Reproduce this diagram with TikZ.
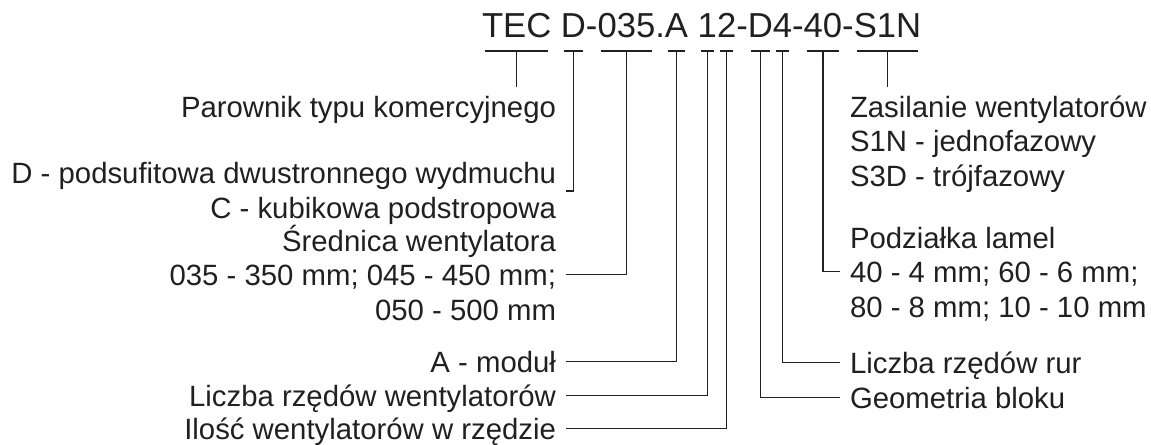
\documentclass[tikz,border=0pt]{standalone}
\usepackage{fontspec}
\setmainfont{Liberation Sans}
\usepackage{tikz}
\usetikzlibrary{positioning, calc}
\definecolor{ink}{HTML}{231F20}
\tikzstyle{seg} = [inner sep=0pt, outer sep=0pt, font=\fontsize{26}{30}\selectfont]
\tikzstyle{lbl} = [inner xsep=7.5pt, inner ysep=7.5pt, outer sep=0pt, text height=15.75pt, text depth=0pt, font=\fontsize{22}{26}\selectfont]
\newcommand{\segbar}[1]{%
  \draw ([shift={(3,13)}]#1.base west) -- ([shift={(-3,13)}]#1.base east);
  \coordinate (#1-bar) at ([shift={(0,13)}]#1.base);}

\begin{document}
\begin{tikzpicture}[x=0.75pt, y=-0.75pt, line width=1pt, color=ink]
    \useasboundingbox (0,0) rectangle (1151,445);
    % type code
    \node [seg, anchor=base west] (tec) at (482,38) {TEC};
    \node [seg, base right=7.2pt of tec] (typ) {D};
    \node [seg, base right=0pt of typ] (d1) {-};
    \node [seg, base right=0pt of d1] (fan) {035};
    \node [seg, base right=0pt of fan] (dot) {.};
    \node [seg, base right=0pt of dot] (mod) {A};
    \node [seg, base right=7.2pt of mod] (rows) {1};
    \node [seg, base right=0pt of rows] (num) {2};
    \node [seg, base right=0pt of num] (d2) {-};
    \node [seg, base right=0pt of d2] (geo) {D};
    \node [seg, base right=0pt of geo] (tubes) {4};
    \node [seg, base right=0pt of tubes] (d3) {-};
    \node [seg, base right=0pt of d3] (fins) {40};
    \node [seg, base right=0pt of fins] (d4) {-};
    \node [seg, base right=0pt of d4] (pow) {S1N};
    \segbar{tec} \segbar{typ} \segbar{fan} \segbar{mod} \segbar{rows}
    \segbar{num} \segbar{geo} \segbar{tubes} \segbar{fins} \segbar{pow}

    % left side
    \node [lbl, anchor=base east] (parownik) at (566,118) {Parownik typu komercyjnego};
    \node [lbl, anchor=base east] (typd) at (566,184) {D - podsufitowa dwustronnego wydmuchu};
    \node [lbl, anchor=base east] (typc) at (566,219) {C - kubikowa podstropowa};
    \node [lbl, anchor=base east] (sred1) at (566,251) {Średnica wentylatora};
    \node [lbl, anchor=base east] (sred2) at (566,285) {035 - 350 mm; 045 - 450 mm;};
    \node [lbl, anchor=base east] (sred3) at (566,320) {050 - 500 mm};
    \node [lbl, anchor=base east] (modul) at (566,372) {A - moduł};
    \node [lbl, anchor=base east] (rzedy) at (566,406) {Liczba rzędów wentylatorów};
    \node [lbl, anchor=base east] (ilosc) at (566,439) {Ilość wentylatorów w rzędzie};
    \coordinate (typend) at ($(typd.east)!0.5!(typc.east)$);

    % right side
    \node [lbl, anchor=base west] (zas1) at (840,118) {Zasilanie wentylatorów};
    \node [lbl, anchor=base west] (zas2) at (840,152) {S1N - jednofazowy};
    \node [lbl, anchor=base west] (zas3) at (840,187) {S3D - trójfazowy};
    \node [lbl, anchor=base west] (pod1) at (840,248) {Podziałka lamel};
    \node [lbl, anchor=base west] (pod2) at (840,282) {40 - 4 mm; 60 - 6 mm;};
    \node [lbl, anchor=base west] (pod3) at (840,317) {80 - 8 mm; 10 - 10 mm};
    \node [lbl, anchor=base west] (rury) at (840,373) {Liczba rzędów rur};
    \node [lbl, anchor=base west] (geom) at (840,408) {Geometria bloku};

    % leaders
    \draw (tec-bar) -- (tec-bar |- parownik.north);
    \draw (typ-bar) |- (typend);
    \draw (fan-bar) |- (sred2.east);
    \draw (mod-bar) |- (modul.east);
    \draw (rows-bar) |- (rzedy.east);
    \draw (num-bar) |- (ilosc.east);
    \draw (geo-bar) |- (geom.west);
    \draw (tubes-bar) |- (rury.west);
    \draw (fins-bar) |- (pod2.west);
    \draw (pow-bar) -- (pow-bar |- zas1.north);
\end{tikzpicture}
\end{document}
